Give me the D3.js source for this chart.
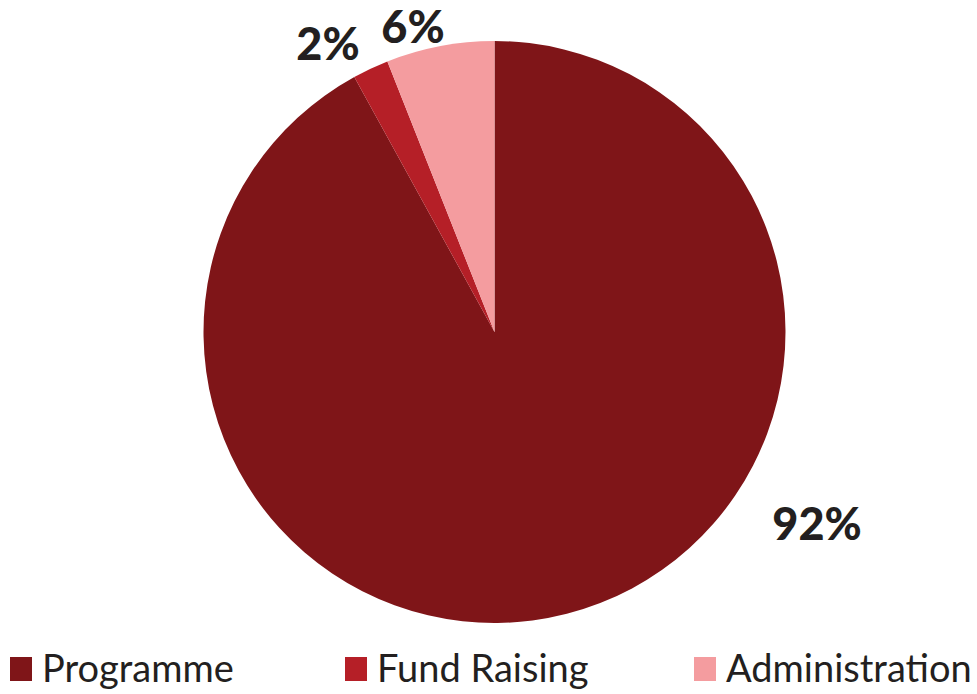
<!DOCTYPE html>
<html><head><meta charset="utf-8">
<script src="https://cdn.jsdelivr.net/npm/d3@7"></script>
<style>body{margin:0;background:#fff}svg{display:block}</style>
</head><body>
<svg id="c" width="977" height="694"></svg>
<script>
const categories = ["Programme", "Fund Raising", "Administration"];
const values = [92, 2, 6];
const labels = ["92%", "2%", "6%"];
const colors = ["#7f1518", "#b51f27", "#f49c9f"];

const svg = d3.select("#c");
const cx = 494.5, cy = 332, r = 291;
const pie = d3.pie().sort(null).value(d => d)(values);
const arc = d3.arc().innerRadius(0).outerRadius(r);
const g = svg.append("g").attr("transform", `translate(${cx},${cy})`);
g.selectAll("path").data(pie).join("path")
  .attr("d", arc).attr("fill", (d, i) => colors[i]);

const labelPos = [[817, 540], [328, 60], [413, 43]];
svg.selectAll("text.lbl").data(labels).join("text")
  .attr("class", "lbl")
  .attr("x", (d, i) => labelPos[i][0]).attr("y", (d, i) => labelPos[i][1])
  .attr("text-anchor", "middle")
  .attr("font-family", "Lato, 'Open Sans', sans-serif").attr("font-weight", 900)
  .attr("font-size", 45).attr("fill", "#231f20").text(d => d);

const legX = [10, 345, 694];
const lg = svg.selectAll("g.leg").data(categories).join("g")
  .attr("class", "leg").attr("transform", (d, i) => `translate(${legX[i]},657)`);
lg.append("rect").attr("width", 22).attr("height", 24).attr("fill", (d, i) => colors[i]);
lg.append("text").attr("x", 32).attr("y", 25)
  .attr("font-family", "Lato, sans-serif").attr("font-size", 38).attr("fill", "#231f20")
  .text(d => d);
</script>
</body></html>
